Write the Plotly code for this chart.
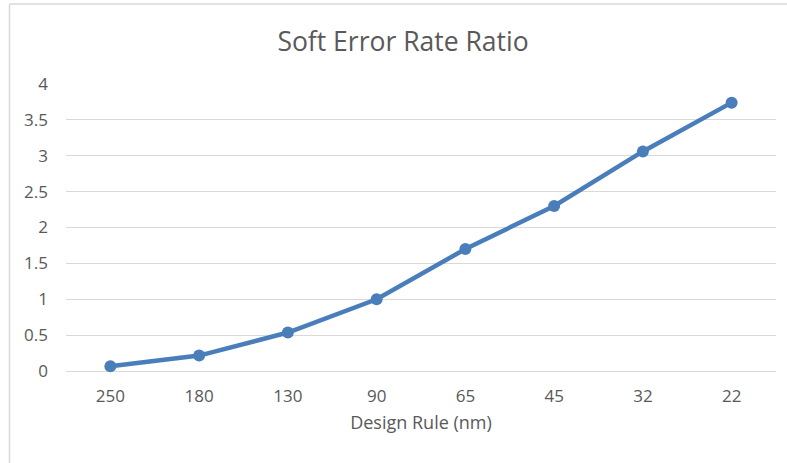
import plotly.graph_objects as go

design_rule = ["250", "180", "130", "90", "65", "45", "32", "22"]
ser_ratio = [0.066, 0.215, 0.536, 1.0, 1.70, 2.30, 3.06, 3.74]
y_ticks = [0, 0.5, 1, 1.5, 2, 2.5, 3, 3.5, 4]
y_tick_text = ["0", "0.5", "1", "1.5", "2", "2.5", "3", "3.5", "4"]

W, H = 787, 463
L, R, T, B = 66, 11, 84.3, 92.3
pw, ph = W - L - R, H - T - B

def px(x):
    return (x - L) / pw

def py(y):
    return (H - y - B) / ph

blue = "#4A7EBB"
grey_txt = "#595959"
font = "Open Sans"

fig = go.Figure()
fig.add_trace(go.Scatter(
    x=design_rule, y=ser_ratio, mode="lines+markers",
    line=dict(color=blue, width=4.5),
    marker=dict(color=blue, size=12),
    cliponaxis=False, showlegend=False,
))

fig.update_layout(
    width=W, height=H,
    margin=dict(l=L, r=R, t=T, b=B),
    paper_bgcolor="white", plot_bgcolor="white",
    title=dict(text="Soft Error Rate Ratio", x=403 / W, xanchor="center",
               y=1 - 42 / H, yanchor="middle",
               font=dict(family=font, size=26.5, color=grey_txt)),
    xaxis=dict(
        type="category", range=[-0.5, 7.5], showgrid=False,
        showline=False, zeroline=False, ticks="",
        tickfont=dict(family=font, size=17, color=grey_txt),
        ticklabelstandoff=13,
        title=dict(text="Design Rule (nm)", standoff=10,
                   font=dict(family=font, size=18, color=grey_txt)),
    ),
    yaxis=dict(
        range=[0, 4], tickvals=y_ticks, ticktext=y_tick_text,
        showgrid=True, gridcolor="#D9D9D9", gridwidth=1,
        zeroline=True, zerolinecolor="#D9D9D9", zerolinewidth=1,
        showline=False, ticks="",
        tickfont=dict(family=font, size=17, color=grey_txt),
        ticklabelstandoff=17,
    ),
    shapes=[
        dict(type="line", xref="paper", yref="paper",
             x0=px(9.5), x1=px(9.5), y0=py(470), y1=py(4.5),
             line=dict(color="#D9D9D9", width=1.5)),
        dict(type="line", xref="paper", yref="paper",
             x0=px(9.5), x1=px(800), y0=py(4.5), y1=py(4.5),
             line=dict(color="#D9D9D9", width=1.5)),
    ],
)

fig.write_html("out.html")
